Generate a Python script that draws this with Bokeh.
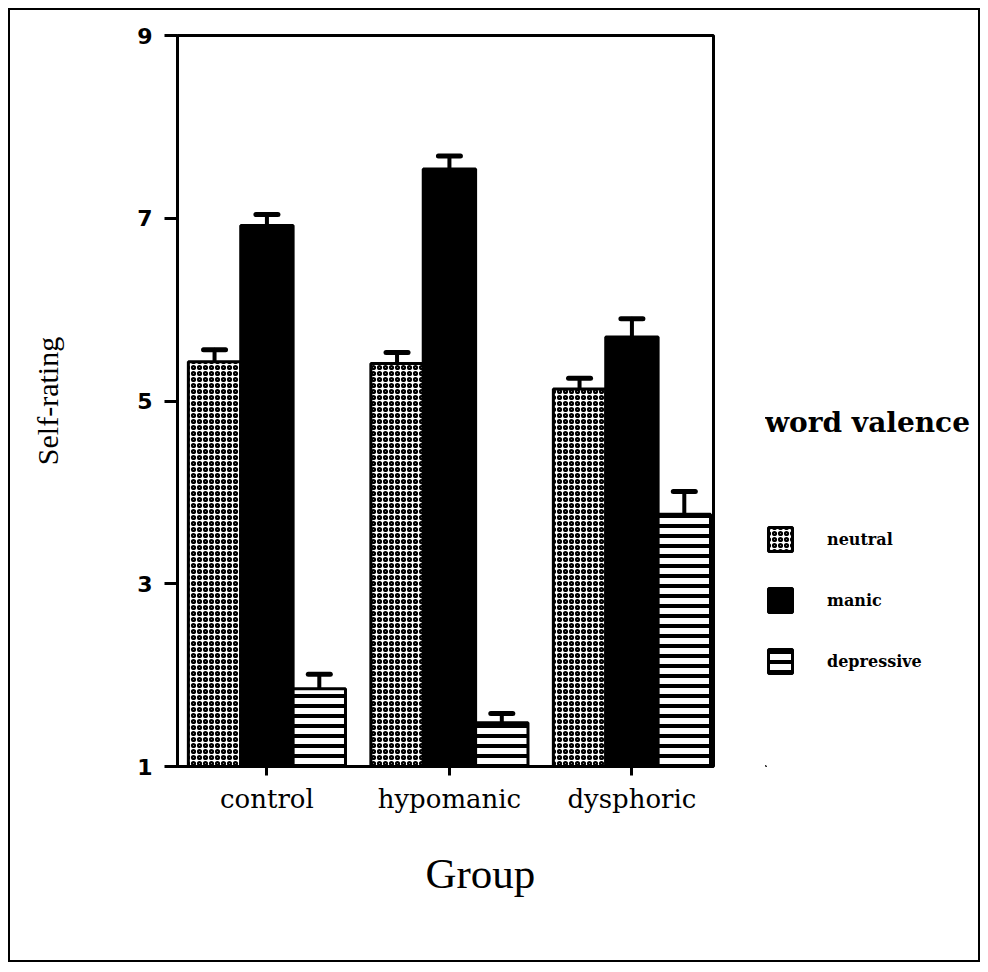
from bokeh.plotting import figure
from bokeh.layouts import row
from bokeh.models import ColumnDataSource, Range1d, FixedTicker, Whisker, TeeHead, Legend, LegendItem, Title
from bokeh.transform import dodge
from bokeh.embed import file_html
from bokeh.resources import INLINE

groups = ["control", "hypomanic", "dysphoric"]
valences = ["neutral", "manic", "depressive"]
neutral = [5.43, 5.41, 5.13]
neutral_se = [0.13, 0.12, 0.12]
manic = [6.92, 7.54, 5.70]
manic_se = [0.12, 0.14, 0.20]
depressive = [1.85, 1.48, 3.76]
depressive_se = [0.16, 0.10, 0.25]
y_ticks = [1, 3, 5, 7, 9]

SERIF = "Liberation Serif"
WIDE = "DejaVu Serif"
BAR_W = 0.287
H = 950

p = figure(width=755, height=H,
           x_range=Range1d(-0.49, 2.447), y_range=Range1d(1, 9),
           output_backend="svg", toolbar_location=None,
           min_border_left=167, min_border_right=52,
           min_border_top=25, min_border_bottom=194)
p.grid.visible = False
p.outline_line_color = "black"
p.outline_line_width = 3
p.outline_line_alpha = 1

# legend-only panel (its sample bars sit far outside its own ranges)
leg = figure(width=213, height=H, output_backend="svg", toolbar_location=None,
             x_range=Range1d(0, 1), y_range=Range1d(0, 1),
             x_axis_location=None, y_axis_location=None, min_border=0)
leg.grid.visible = False
leg.outline_line_color = None

styles = {
    "neutral": dict(fill_color="white", hatch_pattern="ring", hatch_color="black",
                    hatch_scale=6, hatch_weight=2.2),
    "manic": dict(fill_color="black"),
    "depressive": dict(fill_color="white", hatch_pattern="horizontal_line", hatch_color="black",
                       hatch_scale=10, hatch_weight=4),
}
series = [
    ("neutral", neutral, neutral_se, -BAR_W),
    ("manic", manic, manic_se, 0.0),
    ("depressive", depressive, depressive_se, BAR_W),
]

items = []
for name, vals, se, off in series:
    src = ColumnDataSource(dict(
        x=list(range(len(groups))),
        top=vals,
        upper=[v + s for v, s in zip(vals, se)],
        lower=[v - s for v, s in zip(vals, se)],
    ))
    xs = dodge("x", off, range=p.x_range)
    p.vbar(x=xs, top="top", bottom=1, width=BAR_W, source=src,
           line_color="black", line_width=3, **styles[name])
    w = Whisker(base=xs, upper="upper", lower="lower", source=src,
                line_color="black", line_width=4, line_cap="round",
                upper_head=TeeHead(size=22, line_width=5, line_color="black", line_cap="round"),
                lower_head=TeeHead(size=22, line_width=5, line_color="black", line_cap="round"))
    p.add_layout(w)
    lr = leg.vbar(x=[-100], top=[-100], bottom=[-101], width=1,
                  line_color="black", line_width=3, **styles[name])
    items.append(LegendItem(label=name, renderers=[lr]))

legend = Legend(items=items, location=(0, 90), title="word valence",
                title_text_font=WIDE, title_text_font_size="28px", title_text_font_style="bold",
                title_text_color="black", title_standoff=85,
                label_text_font=WIDE, label_text_font_size="16px", label_text_font_style="bold",
                label_text_color="black", label_standoff=32,
                glyph_width=30, glyph_height=30, spacing=31,
                padding=0, margin=0, border_line_color=None, background_fill_alpha=0)
leg.add_layout(legend, "center")

# y axis
ya = p.yaxis[0]
ya.ticker = FixedTicker(ticks=y_ticks)
ya.axis_label = "Self-rating"
ya.axis_label_text_font = SERIF
ya.axis_label_text_font_size = "30px"
ya.axis_label_text_font_style = "normal"
ya.axis_label_text_color = "black"
ya.axis_label_standoff = 70
ya.major_label_text_font = "DejaVu Sans"
ya.major_label_text_font_size = "22px"
ya.major_label_text_font_style = "bold"
ya.major_label_text_color = "black"
ya.major_label_standoff = 12
ya.major_tick_in = 0
ya.major_tick_out = 13
ya.major_tick_line_width = 3
ya.axis_line_width = 3
ya.minor_tick_line_color = None

# x axis
xa = p.xaxis[0]
xa.ticker = FixedTicker(ticks=list(range(len(groups))))
xa.major_label_overrides = {i: g for i, g in enumerate(groups)}
xa.major_label_text_font = WIDE
xa.major_label_text_font_size = "26px"
xa.major_label_text_color = "black"
xa.major_label_standoff = 8
xa.major_tick_in = 0
xa.major_tick_out = 9
xa.major_tick_line_width = 3
xa.axis_line_width = 3
xa.minor_tick_line_color = None

# x-axis title, set a little right of the frame centre as in the original
p.add_layout(Title(text="Group", text_font=SERIF, text_font_size="43px",
                   text_font_style="normal", text_color="black",
                   align="left", offset=248, standoff=62), "below")

page = row(p, leg, styles={"border": "2px solid black", "margin": "8px",
                           "box-sizing": "content-box"})

open("out.html", "w").write(file_html(page, INLINE))
